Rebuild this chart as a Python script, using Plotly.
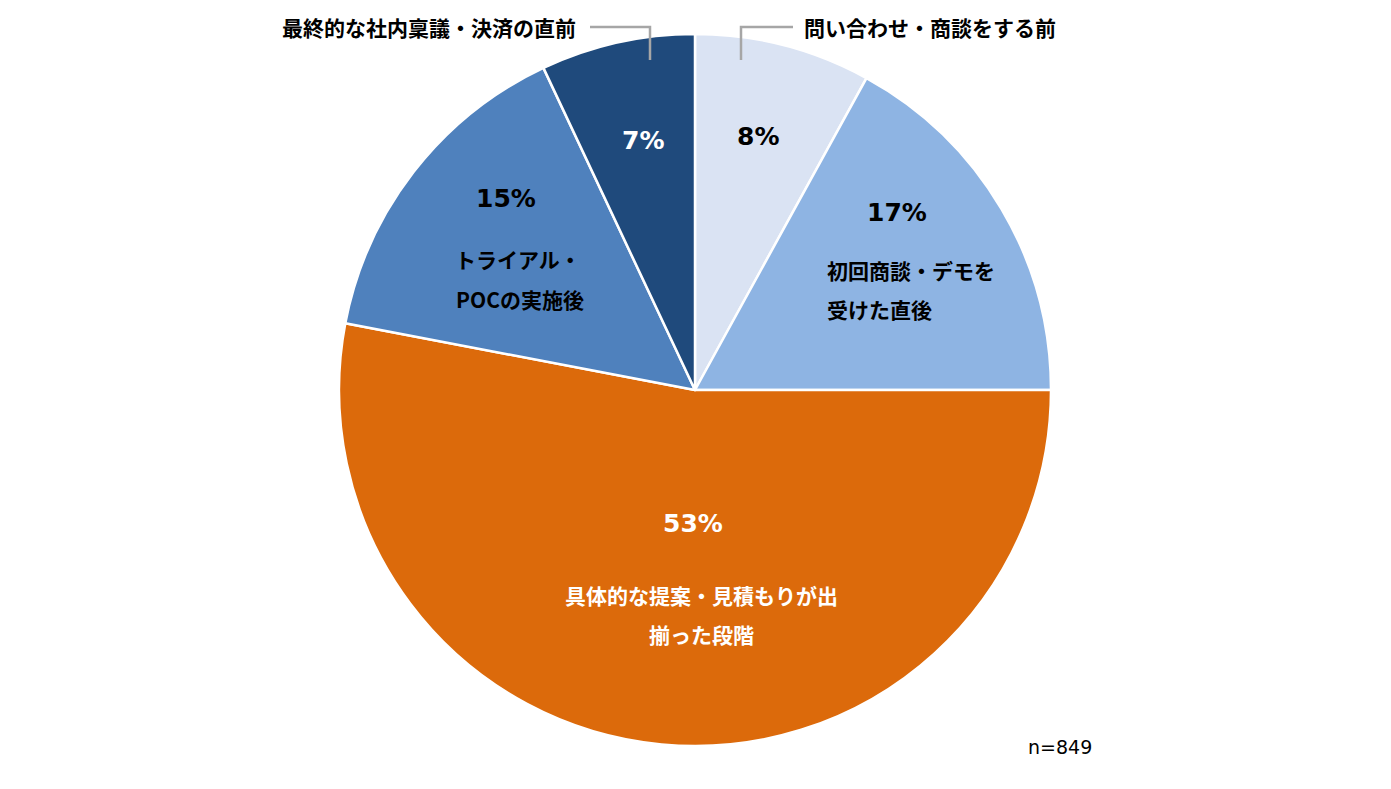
import plotly.graph_objects as go

# Data
categories = ["問い合わせ・商談をする前", "初回商談・デモを受けた直後",
              "具体的な提案・見積もりが出揃った段階", "トライアル・POCの実施後",
              "最終的な社内稟議・決済の直前"]
values = [8, 17, 53, 15, 7]
colors = ["#DAE3F3", "#8EB4E3", "#DC6A0B", "#4F81BD", "#1F4A7C"]
pct_labels = ["8%", "17%", "53%", "15%", "7%"]
n_label = "n=849"

W, H = 1391, 789
def px(x):
    return x / W
def py(y):
    return 1 - y / H

fig = go.Figure()
fig.add_trace(go.Pie(
    labels=categories, values=values, sort=False, direction="clockwise",
    rotation=0, textinfo="none", hoverinfo="label+percent",
    marker=dict(colors=colors, line=dict(color="white", width=2.5)),
    domain=dict(x=[px(339), px(1051)], y=[py(746), py(34)]),
    showlegend=False,
))

pct_font = "DejaVu Sans, Verdana, sans-serif"
jp_font = "Noto Sans CJK JP, sans-serif"

annotations = []
# percentage labels (x, y, color)
pct_pos = [(758, 136, "#000000"), (897, 213, "#000000"), (693, 523, "#FFFFFF"),
           (506, 199, "#000000"), (643, 141, "#FFFFFF")]
for t, (x, y, c) in zip(pct_labels, pct_pos):
    annotations.append(dict(x=px(x), y=py(y), xref="paper", yref="paper",
                            text=f"<b>{t}</b>", showarrow=False,
                            font=dict(family=pct_font, size=25, color=c),
                            xanchor="center", yanchor="middle"))

# category labels inside slices
inner = [
    ("初回商談・デモを", 825, 270, "left", "#000000"),
    ("受けた直後", 825, 309, "left", "#000000"),
    ("トライアル・", 518, 259, "center", "#000000"),
    ("POCの実施後", 520, 299, "center", "#000000"),
    ("具体的な提案・見積もりが出", 701, 595, "center", "#FFFFFF"),
    ("揃った段階", 701, 634, "center", "#FFFFFF"),
]
for t, x, y, anc, c in inner:
    annotations.append(dict(x=px(x), y=py(y), xref="paper", yref="paper",
                            text=f"<b>{t}</b>", showarrow=False,
                            font=dict(family=jp_font, size=21, color=c),
                            xanchor=anc, yanchor="middle"))

# outer labels
annotations.append(dict(x=px(578), y=py(27), xref="paper", yref="paper",
                        text=f"<b>{categories[4]}</b>", showarrow=False,
                        font=dict(family=jp_font, size=21, color="#000000"),
                        xanchor="right", yanchor="middle"))
annotations.append(dict(x=px(802), y=py(27), xref="paper", yref="paper",
                        text=f"<b>{categories[0]}</b>", showarrow=False,
                        font=dict(family=jp_font, size=21, color="#000000"),
                        xanchor="left", yanchor="middle"))
annotations.append(dict(x=px(1094), y=py(747), xref="paper", yref="paper",
                        text=n_label, showarrow=False,
                        font=dict(family=pct_font, size=19, color="#000000"),
                        xanchor="right", yanchor="middle"))

line_style = dict(color="#A6A6A6", width=2.5)
shapes = [
    dict(type="path", xref="paper", yref="paper",
         path=f"M {px(590)},{py(27)} L {px(650)},{py(27)} L {px(650)},{py(60)}",
         line=line_style),
    dict(type="path", xref="paper", yref="paper",
         path=f"M {px(741)},{py(60)} L {px(741)},{py(27)} L {px(793)},{py(27)}",
         line=line_style),
]

fig.update_layout(width=W, height=H, margin=dict(l=0, r=0, t=0, b=0),
                  paper_bgcolor="white", plot_bgcolor="white",
                  annotations=annotations, shapes=shapes)

fig.write_html("out.html")
